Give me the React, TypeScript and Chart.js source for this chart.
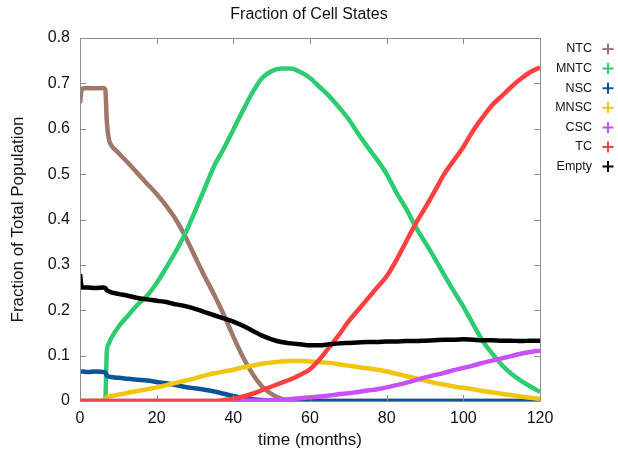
import React, { useEffect, useRef } from 'react';
import { Chart, registerables } from 'chart.js';

Chart.register(...registerables);

const chartTitle = 'Fraction of Cell States';
const xTitle = 'time (months)';
const yTitle = 'Fraction of Total Population';

const months = [0, 0.5, 2, 4, 6, 6.6, 7, 7.5, 8,
  10, 12.5, 15, 17.5, 20, 22.5, 25, 27.5, 30, 32.5,
  35, 37.5, 40, 42.5, 45, 47.5, 50, 52.5, 55, 57.5,
  60, 62.5, 65, 67.5, 70, 72.5, 75, 77.5, 80, 82.5,
  85, 87.5, 90, 92.5, 95, 97.5, 100, 102.5, 105, 107.5,
  110, 112.5, 115, 117.5, 120];

const ntc = [0.657, 0.688, 0.690, 0.689, 0.690, 0.686, 0.615, 0.578, 0.566,
  0.547, 0.525, 0.502, 0.479, 0.456, 0.430, 0.400, 0.362, 0.318, 0.275,
  0.234, 0.190, 0.142, 0.097, 0.060, 0.032, 0.015, 0.005, 0.001, 0,
  0, 0, 0, 0, 0, 0, 0, 0, 0, 0,
  0, 0, 0, 0, 0, 0, 0, 0, 0, 0,
  0, 0, 0, 0, 0];

const mntc = [0, 0, 0, 0, 0, 0.004, 0.110, 0.126, 0.136,
  0.163, 0.188, 0.212, 0.232, 0.260, 0.294, 0.330, 0.370, 0.418, 0.468,
  0.518, 0.556, 0.598, 0.640, 0.680, 0.712, 0.727, 0.733, 0.733, 0.725,
  0.712, 0.692, 0.672, 0.648, 0.622, 0.590, 0.560, 0.532, 0.500, 0.460,
  0.425, 0.385, 0.350, 0.315, 0.278, 0.242, 0.208, 0.170, 0.133, 0.105,
  0.080, 0.060, 0.045, 0.032, 0.020];

const nsc = [0.065, 0.065, 0.064, 0.065, 0.064, 0.063, 0.056, 0.054, 0.053,
  0.051, 0.049, 0.047, 0.045, 0.042, 0.039, 0.035, 0.031, 0.028, 0.025,
  0.021, 0.016, 0.011, 0.007, 0.004, 0.002, 0.001, 0, 0, 0,
  0, 0, 0, 0, 0, 0, 0, 0, 0, 0,
  0, 0, 0, 0, 0, 0, 0, 0, 0, 0,
  0, 0, 0, 0, 0];

const mnsc = [0, 0, 0, 0, 0, 0.002, 0.008, 0.010, 0.011,
  0.014, 0.018, 0.022, 0.026, 0.030, 0.035, 0.040, 0.045, 0.050, 0.056,
  0.061, 0.065, 0.069, 0.074, 0.078, 0.082, 0.085, 0.087, 0.088, 0.088,
  0.087, 0.086, 0.084, 0.081, 0.078, 0.075, 0.072, 0.069, 0.065, 0.060,
  0.055, 0.050, 0.045, 0.040, 0.036, 0.032, 0.029, 0.026, 0.022, 0.019,
  0.016, 0.013, 0.010, 0.007, 0.005];

const csc = [0, 0, 0, 0, 0, 0, 0, 0, 0,
  0, 0, 0, 0, 0, 0, 0, 0, 0, 0,
  0, 0, 0, 0.001, 0.001, 0.001, 0.002, 0.003, 0.004, 0.006,
  0.008, 0.010, 0.012, 0.015, 0.017, 0.020, 0.023, 0.026, 0.030, 0.035,
  0.040, 0.046, 0.052, 0.057, 0.062, 0.068, 0.073, 0.078, 0.084, 0.089,
  0.094, 0.099, 0.104, 0.108, 0.111];

const tc = [0, 0, 0, 0, 0, 0, 0, 0, 0,
  0, 0, 0, 0, 0, 0, 0, 0, 0, 0,
  0, 0.002, 0.005, 0.010, 0.016, 0.024, 0.032, 0.040, 0.048, 0.058,
  0.070, 0.092, 0.118, 0.145, 0.175, 0.200, 0.225, 0.250, 0.275, 0.310,
  0.350, 0.390, 0.425, 0.462, 0.500, 0.530, 0.560, 0.595, 0.625, 0.652,
  0.672, 0.692, 0.710, 0.725, 0.735];

const empty = [0.280, 0.250, 0.250, 0.249, 0.250, 0.249, 0.244, 0.242, 0.240,
  0.236, 0.232, 0.227, 0.224, 0.221, 0.218, 0.213, 0.209, 0.203, 0.196,
  0.189, 0.182, 0.175, 0.166, 0.155, 0.144, 0.136, 0.130, 0.127, 0.125,
  0.123, 0.123, 0.125, 0.127, 0.128, 0.129, 0.130, 0.130, 0.131, 0.131,
  0.132, 0.132, 0.133, 0.134, 0.135, 0.135, 0.136, 0.135, 0.134, 0.134,
  0.133, 0.133, 0.132, 0.133, 0.133];

const seriesLabels = ['NTC', 'MNTC', 'NSC', 'MNSC', 'CSC', 'TC', 'Empty'];
const seriesValues = [ntc, mntc, nsc, mnsc, csc, tc, empty];
const seriesColors = ['#a0776a', '#2ecc71', '#0b5394', '#f1c40f', '#c850ff', '#ff4040', '#000000'];

const xTicks = [0, 20, 40, 60, 80, 100, 120];
const yTicks = [0, 0.1, 0.2, 0.3, 0.4, 0.5, 0.6, 0.7, 0.8];

const FONT = '"Liberation Sans", Arial, Helvetica, sans-serif';

const framePlugin = {
  id: 'gnuFrame',
  afterDatasetsDraw(chart: any) {
    const { ctx, chartArea } = chart;
    const { left, right, top, bottom } = chartArea;
    const xs = chart.scales.x;
    const ys = chart.scales.y;
    const tl = 6;
    ctx.save();
    ctx.strokeStyle = '#8c8c8c';
    ctx.lineWidth = 1;
    ctx.beginPath();
    ctx.rect(Math.round(left) + 0.5, Math.round(top) + 0.5, Math.round(right - left), Math.round(bottom - top));
    xTicks.forEach((v) => {
      const px = Math.round(xs.getPixelForValue(v)) + 0.5;
      ctx.moveTo(px, bottom);
      ctx.lineTo(px, bottom - tl);
      ctx.moveTo(px, top);
      ctx.lineTo(px, top + tl);
    });
    yTicks.forEach((v) => {
      const py = Math.round(ys.getPixelForValue(v)) + 0.5;
      ctx.moveTo(left, py);
      ctx.lineTo(left + tl, py);
      ctx.moveTo(right, py);
      ctx.lineTo(right - tl, py);
    });
    ctx.stroke();
    ctx.restore();
  },
};

const legendPlugin = {
  id: 'gnuLegend',
  afterDraw(chart: any) {
    const { ctx } = chart;
    const datasets = chart.data.datasets;
    ctx.save();
    ctx.font = '12.5px ' + FONT;
    ctx.textAlign = 'right';
    ctx.textBaseline = 'middle';
    datasets.forEach((ds: any, i: number) => {
      const y = 49 + i * 19.6;
      ctx.fillStyle = '#111';
      ctx.fillText(ds.label, 592, y);
      const cx = 608;
      const h = 5.5;
      ctx.strokeStyle = ds.borderColor;
      ctx.lineWidth = 2;
      ctx.beginPath();
      ctx.moveTo(cx - h, y);
      ctx.lineTo(cx + h, y);
      ctx.moveTo(cx, y - h);
      ctx.lineTo(cx, y + h);
      ctx.stroke();
    });
    ctx.restore();
  },
};

export default function App() {
  const canvasRef = useRef<HTMLCanvasElement | null>(null);

  useEffect(() => {
    const canvas = canvasRef.current;
    if (!canvas) return;
    const datasets = seriesLabels.map((label, i) => ({
      label,
      data: months.map((m, j) => ({ x: m, y: seriesValues[i][j] })),
      borderColor: seriesColors[i],
      backgroundColor: seriesColors[i],
      borderWidth: 4.5,
      pointRadius: 0,
      cubicInterpolationMode: 'monotone' as const,
      fill: false,
      order: seriesLabels.length - 1 - i,
      xAxisID: 'x',
      yAxisID: 'y',
    }));

    const chart = new Chart(canvas, {
      type: 'line',
      data: { datasets },
      plugins: [framePlugin, legendPlugin],
      options: {
        responsive: false,
        animation: false,
        devicePixelRatio: 1,
        events: [],
        layout: { padding: 0 },
        plugins: {
          legend: { display: false },
          tooltip: { enabled: false },
          title: {
            display: true,
            text: chartTitle,
            color: '#111',
            font: { family: FONT, size: 16, weight: 'normal' },
            padding: { top: 4.5, bottom: 14.3 },
          },
        },
        scales: {
          x: {
            type: 'linear',
            min: 0,
            max: 120,
            afterFit(scale: any) { scale.height = 56; },
            afterBuildTicks(scale: any) { scale.ticks = xTicks.map((v) => ({ value: v })); },
            grid: { display: false },
            border: { display: false },
            ticks: {
              color: '#111',
              font: { family: FONT, size: 16 },
              padding: 0,
              maxRotation: 0,
            },
            title: {
              display: true,
              text: xTitle,
              color: '#111',
              font: { family: FONT, size: 17 },
              padding: { top: 0, bottom: 6 },
            },
          },
          y: {
            type: 'linear',
            position: 'left',
            min: 0,
            max: 0.8,
            afterFit(scale: any) { scale.width = 80; },
            afterBuildTicks(scale: any) { scale.ticks = yTicks.map((v) => ({ value: v })); },
            grid: { display: false },
            border: { display: false },
            ticks: {
              color: '#111',
              font: { family: FONT, size: 16 },
              padding: 2,
              callback: (v: any) => (Number(v) === 0 ? '0' : Number(v).toFixed(1)),
            },
            title: {
              display: true,
              text: yTitle,
              color: '#111',
              font: { family: FONT, size: 17 },
              padding: { top: 8, bottom: 0 },
            },
          },
          legendSpace: {
            type: 'linear',
            position: 'right',
            min: 0,
            max: 0.8,
            afterFit(scale: any) { scale.width = 78; },
            grid: { display: false },
            border: { display: false },
            ticks: { display: false },
          },
        },
      },
    });
    return () => chart.destroy();
  }, []);

  return (
    <div style={{ position: 'absolute', left: 0, top: 0, width: 618, height: 457, background: '#fff' }}>
      <canvas ref={canvasRef} width={618} height={457} style={{ display: 'block' }} />
    </div>
  );
}
